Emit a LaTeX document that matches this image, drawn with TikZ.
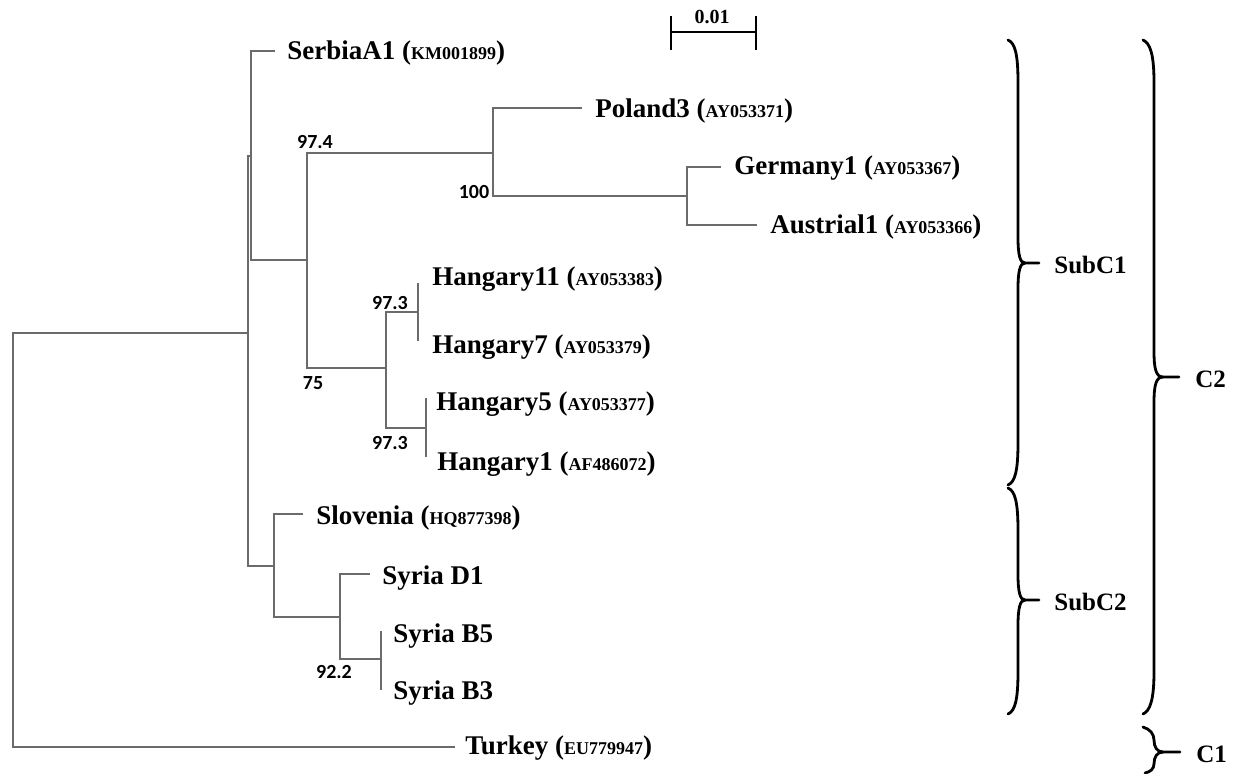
\documentclass[tikz,border=0pt]{standalone}
\usepackage{fontspec}
\setmainfont{Liberation Serif}
\newfontfamily\bsfont{Carlito}
\newcommand\acc[1]{{\fontsize{9}{11}\selectfont #1}}
\newcommand\mybrace[7]{%
  \draw[brc] (#1,#5) .. controls ({#1+7},{#5+3}) and (#2,{#5+14}) .. (#2,{#5+42})
     -- (#2,{#6-26}) .. controls (#2,{#6-8}) and ({#2+2},#6) .. (#3,#6) -- (#4,#6);
  \draw[brc] (#3,#6) .. controls ({#2+2},#6) and (#2,{#6+8}) .. (#2,{#6+26})
     -- (#2,{#7-42}) .. controls (#2,{#7-14}) and ({#1+7},{#7-3}) .. (#1,#7);
}
\tikzset{
  br/.style={draw=black!58, line width=0.75pt},
  leaf/.style={anchor=west, inner sep=0pt, font=\fontsize{13.5}{16}\selectfont\bfseries},
  boot/.style={inner sep=0pt, font=\bsfont\fontsize{10}{12}\selectfont\bfseries},
  brc/.style={draw=black, line width=1.4pt, line cap=round},
  clab/.style={anchor=west, inner sep=0pt, font=\fontsize{12.5}{15}\selectfont\bfseries},
}
\begin{document}
\begin{tikzpicture}[x=0.5pt,y=-0.5pt]
\useasboundingbox (0,0) rectangle (1233,773);
% internal nodes
\coordinate (R) at (13,540);
\coordinate (A) at (248,333);
\coordinate (B) at (251,156);
\coordinate (C) at (307,260);
\coordinate (D) at (493,153);
\coordinate (E) at (687,196);
\coordinate (H) at (386,368);
\coordinate (H1) at (418,312);
\coordinate (H2) at (426,428);
\coordinate (S) at (274,566);
\coordinate (T) at (340,617);
\coordinate (U) at (381,659);
% leaf ends
\coordinate (sr) at (275,51);
\coordinate (pl) at (582,108);
\coordinate (ge) at (721,167);
\coordinate (au) at (757,225);
\coordinate (h11) at (418,283);
\coordinate (h7) at (418,341);
\coordinate (h5) at (426,398);
\coordinate (h1) at (426,457);
\coordinate (sl) at (303,514);
\coordinate (d1) at (370,574);
\coordinate (b5) at (381,631);
\coordinate (b3) at (381,690);
\coordinate (tk) at (455,747);
% branches
\draw[br] (R) |- (A);
\draw[br] (R) |- (tk);
\draw[br] (A) |- (B);
\draw[br] (A) |- (S);
\draw[br] (B) |- (sr);
\draw[br] (B) |- (C);
\draw[br] (C) |- (D);
\draw[br] (C) |- (H);
\draw[br] (D) |- (pl);
\draw[br] (D) |- (E);
\draw[br] (E) |- (ge);
\draw[br] (E) |- (au);
\draw[br] (H) |- (H1);
\draw[br] (H) |- (H2);
\draw[br] (h11) -- (h7);
\draw[br] (h5) -- (h1);
\draw[br] (S) |- (sl);
\draw[br] (S) |- (T);
\draw[br] (T) |- (d1);
\draw[br] (T) |- (U);
\draw[br] (b5) -- (b3);
% leaf labels
\node[leaf] (lsr) at (287,53) {SerbiaA1 (\acc{KM001899})};
\node[leaf] (lpl) at (595,111) {Poland3 (\acc{AY053371})};
\node[leaf] (lge) at (734,168) {Germany1 (\acc{AY053367})};
\node[leaf] (lau) at (770,227) {Austrial1 (\acc{AY053366})};
\node[leaf] (lh11) at (432,279) {Hangary11 (\acc{AY053383})};
\node[leaf] (lh7) at (432,347) {Hangary7 (\acc{AY053379})};
\node[leaf] (lh5) at (436,404) {Hangary5 (\acc{AY053377})};
\node[leaf] (lh1) at (437,464) {Hangary1 (\acc{AF486072})};
\node[leaf] (lsl) at (316,518) {Slovenia (\acc{HQ877398})};
\node[leaf] (ld1) at (382,578) {Syria D1};
\node[leaf] (lb5) at (393,636) {Syria B5};
\node[leaf] (lb3) at (393,693) {Syria B3};
\node[leaf] (ltk) at (465,748) {Turkey (\acc{EU779947})};
% bootstrap values
\node[boot] (bs1) at (315,142) {97.4};
\node[boot] (bs2) at (474,192) {100};
\node[boot] (bs3) at (390,303) {97.3};
\node[boot] (bs4) at (313,383) {75};
\node[boot] (bs5) at (390,443) {97.3};
\node[boot] (bs6) at (334,672) {92.2};
% scale bar
\coordinate (sb1) at (671,32);
\coordinate (sb2) at (756,32);
\draw[black, line width=1.4pt] (sb1) -- (sb2);
\draw[black, line width=1.4pt] ([yshift=8]sb1) -- ([yshift=-9]sb1);
\draw[black, line width=1.4pt] ([yshift=8]sb2) -- ([yshift=-9]sb2);
\node[inner sep=0pt, font=\fontsize{10}{12}\selectfont\bfseries] (sbl) at (712,17) {0.01};
% braces
\mybrace{1008}{1018}{1025}{1039}{40}{263}{485}
\mybrace{1008}{1018}{1025}{1039}{488}{600}{714}
\mybrace{1143}{1154}{1163}{1179}{40}{377}{714}
\draw[brc] (1143,727) .. controls (1150,729) and (1154,734) .. (1154,740)
   .. controls (1154,747) and (1157,752) .. (1163,752) -- (1180,752);
\draw[brc] (1163,752) .. controls (1157,752) and (1154,757) .. (1154,764)
   .. controls (1154,769) and (1150,772) .. (1145,773);
% clade labels
\node[clab] (c11) at (1054,265) {SubC1};
\node[clab] (c12) at (1054,602) {SubC2};
\node[clab] (c2) at (1195,379) {C2};
\node[clab] (c1) at (1196,754) {C1};
\end{tikzpicture}
\end{document}
